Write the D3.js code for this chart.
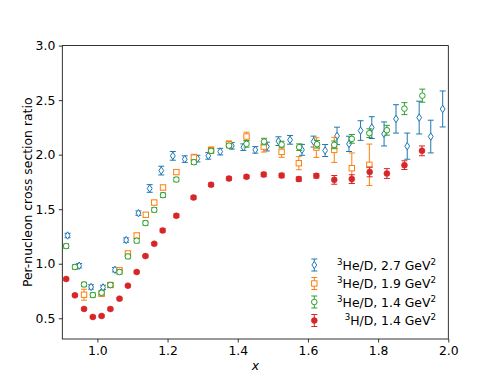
<!DOCTYPE html>
<meta charset="utf-8">
<style>
  body { margin: 0; background: #fff; }
  text { font-family: "DejaVu Sans", sans-serif; fill: #000; }
</style>
<body>
<div id="chart"></div>
<script src="https://d3js.org/d3.v7.min.js"></script>
<script>
// 3He/D, 2.7 GeV^2
const blueX = [0.915,0.948,0.982,1.016,1.050,1.082,1.117,1.149,1.182,1.215,1.249,1.285,1.316,1.350,1.383,1.416,1.450,1.483,1.516,1.549,1.583,1.616,1.649,1.683,1.717,1.750,1.782,1.817,1.851,1.883,1.917,1.950,1.984];
const blueY = [1.259,0.982,0.787,0.783,0.945,1.217,1.464,1.690,1.854,1.989,1.959,1.964,1.989,2.028,2.081,2.069,2.044,2.074,2.124,2.136,2.044,2.120,2.038,2.172,2.099,2.221,2.248,2.190,2.328,2.078,2.340,2.166,2.419];
const blueE = [0.02,0.02,0.02,0.02,0.02,0.02,0.02,0.035,0.04,0.04,0.03,0.03,0.03,0.03,0.03,0.03,0.03,0.04,0.04,0.04,0.05,0.05,0.055,0.08,0.07,0.09,0.10,0.11,0.13,0.12,0.15,0.15,0.165];

// 3He/D, 1.9 GeV^2
const orangeX = [0.962,1.012,1.037,1.063,1.087,1.112,1.138,1.162,1.187,1.225,1.275,1.324,1.375,1.425,1.474,1.525,1.574,1.624,1.675,1.725,1.775];
const orangeY = [0.716,0.725,0.805,0.939,1.094,1.259,1.449,1.561,1.699,1.840,1.973,2.041,2.096,2.166,2.074,2.026,1.922,2.065,2.044,1.876,1.907];
const orangeE = [0.05,0.02,0.02,0.02,0.02,0.02,0.02,0.02,0.02,0.02,0.03,0.03,0.03,0.04,0.05,0.05,0.06,0.09,0.115,0.14,0.19];

// 3He/D, 1.4 GeV^2
const greenX = [0.911,0.936,0.962,0.987,1.012,1.037,1.063,1.087,1.112,1.137,1.162,1.187,1.225,1.275,1.324,1.375,1.425,1.475,1.525,1.575,1.626,1.675,1.725,1.775,1.825,1.875,1.926];
const greenY = [1.162,0.970,0.810,0.713,0.734,0.805,0.924,1.067,1.211,1.373,1.494,1.629,1.772,1.931,2.035,2.083,2.099,2.120,2.093,2.069,2.096,2.090,2.145,2.197,2.224,2.422,2.541];
const greenE = [0.02,0.02,0.02,0.02,0.02,0.02,0.02,0.02,0.02,0.02,0.02,0.02,0.02,0.02,0.02,0.02,0.03,0.03,0.03,0.03,0.035,0.035,0.04,0.04,0.045,0.055,0.06];

// 3H/D, 1.4 GeV^2
const redX = [0.911,0.936,0.962,0.987,1.012,1.037,1.063,1.087,1.112,1.137,1.162,1.186,1.225,1.274,1.324,1.375,1.425,1.474,1.525,1.574,1.624,1.675,1.725,1.776,1.825,1.875,1.925];
const redY = [0.860,0.710,0.586,0.512,0.521,0.585,0.680,0.799,0.924,1.070,1.183,1.305,1.440,1.607,1.724,1.781,1.797,1.818,1.809,1.776,1.806,1.769,1.776,1.842,1.827,1.904,2.035];
const redE = [0.01,0.01,0.01,0.01,0.01,0.01,0.01,0.01,0.01,0.01,0.01,0.015,0.015,0.015,0.015,0.015,0.015,0.02,0.02,0.02,0.02,0.04,0.04,0.045,0.045,0.04,0.045];

const xTicks = [1.0, 1.2, 1.4, 1.6, 1.8, 2.0];
const yTicks = [0.5, 1.0, 1.5, 2.0, 2.5, 3.0];

const width = 498, height = 382;
const margin = {left: 62.3, right: 498 - 448.3, top: 45.6, bottom: 382 - 339};
const fs = "12.4px";

const svg = d3.select("#chart").append("svg")
    .attr("width", width).attr("height", height);

const x = d3.scaleLinear().domain([0.9, 2.0]).range([margin.left, width - margin.right]);
const y = d3.scaleLinear().domain([0.31, 3.0]).range([height - margin.bottom, margin.top]);

// axes
const xAxis = svg.append("g")
    .attr("transform", `translate(0,${height - margin.bottom})`)
    .call(d3.axisBottom(x).tickValues(xTicks).tickFormat(d3.format(".1f")).tickSize(3.5).tickPadding(3.5));
const yAxis = svg.append("g")
    .attr("transform", `translate(${margin.left},0)`)
    .call(d3.axisLeft(y).tickValues(yTicks).tickFormat(d3.format(".1f")).tickSize(3.5).tickPadding(3.5));
[xAxis, yAxis].forEach(a => {
    a.selectAll("text").style("font-size", fs).style("font-family", "DejaVu Sans");
    a.selectAll("line").attr("stroke", "#000").attr("stroke-width", 0.8);
    a.select(".domain").remove();
});

// frame
svg.append("rect")
    .attr("x", margin.left).attr("y", margin.top)
    .attr("width", width - margin.left - margin.right)
    .attr("height", height - margin.top - margin.bottom)
    .attr("fill", "none").attr("stroke", "#000").attr("stroke-width", 0.8);

svg.append("text")
    .attr("x", (margin.left + width - margin.right) / 2).attr("y", 370)
    .attr("text-anchor", "middle").style("font-size", fs).style("font-style", "italic")
    .text("x");
svg.append("text")
    .attr("transform", `translate(31.5,${(margin.top + height - margin.bottom) / 2}) rotate(-90)`)
    .attr("text-anchor", "middle").style("font-size", fs)
    .text("Per-nucleon cross section ratio");

const series = [
    {xs: blueX, ys: blueY, es: blueE, color: "#1f77b4", shape: "diamond", label: "He/D, 2.7 GeV"},
    {xs: orangeX, ys: orangeY, es: orangeE, color: "#ff7f0e", shape: "square", label: "He/D, 1.9 GeV"},
    {xs: greenX, ys: greenY, es: greenE, color: "#2ca02c", shape: "circle", label: "He/D, 1.4 GeV"},
    {xs: redX, ys: redY, es: redE, color: "#d62728", shape: "dot", label: "H/D, 1.4 GeV"}
];

function marker(g, shape, color) {
    if (shape === "diamond") {
        g.append("path").attr("d", "M0,-3.7L2.4,0L0,3.7L-2.4,0Z")
            .attr("fill", "#fff").attr("stroke", color).attr("stroke-width", 1);
    } else if (shape === "square") {
        g.append("rect").attr("x", -2.7).attr("y", -2.7).attr("width", 5.4).attr("height", 5.4)
            .attr("fill", "#fff").attr("stroke", color).attr("stroke-width", 1);
    } else if (shape === "circle") {
        g.append("circle").attr("r", 2.8)
            .attr("fill", "#fff").attr("stroke", color).attr("stroke-width", 1);
    } else {
        g.append("circle").attr("r", 3).attr("fill", color).attr("stroke", color).attr("stroke-width", 0.5);
    }
}

function errbar(g, x0, y0, y1, color) {
    g.append("line").attr("x1", x0).attr("x2", x0).attr("y1", y0).attr("y2", y1)
        .attr("stroke", color).attr("stroke-width", 1);
    [y0, y1].forEach(yy => g.append("line").attr("x1", x0 - 3).attr("x2", x0 + 3)
        .attr("y1", yy).attr("y2", yy).attr("stroke", color).attr("stroke-width", 1));
}

const plot = svg.append("g");
series.forEach(s => {
    const g = plot.append("g");
    s.xs.forEach((xv, i) => {
        errbar(g, x(xv), y(s.ys[i] - s.es[i]), y(s.ys[i] + s.es[i]), s.color);
    });
    s.xs.forEach((xv, i) => {
        const m = g.append("g").attr("transform", `translate(${x(xv)},${y(s.ys[i])})`);
        marker(m, s.shape, s.color);
    });
});

// legend
const legendY = [265, 283.5, 302, 320.5];
series.forEach((s, i) => {
    const g = svg.append("g");
    errbar(g, 314.3, legendY[i] - 6, legendY[i] + 6, s.color);
    const m = g.append("g").attr("transform", `translate(314.3,${legendY[i]})`);
    marker(m, s.shape, s.color);
    const t = g.append("text").attr("x", 436).attr("y", legendY[i] + 4.5)
        .attr("text-anchor", "end").style("font-size", fs);
    t.append("tspan").attr("baseline-shift", "super").style("font-size", "8.7px").text("3");
    t.append("tspan").text(s.label);
    t.append("tspan").attr("baseline-shift", "super").style("font-size", "8.7px").text("2");
});
</script>
</body>
